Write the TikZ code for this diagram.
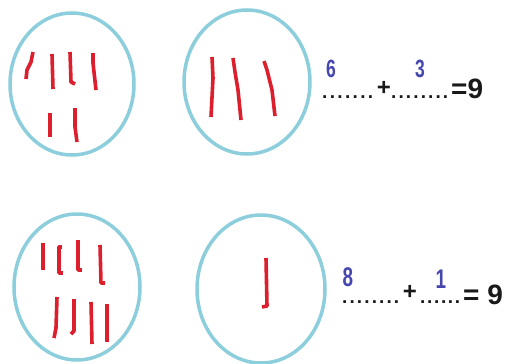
\documentclass[tikz,border=0pt]{standalone}
\usepackage{fontspec}
\setmainfont{Liberation Sans}
\definecolor{ringblue}{RGB}{140,206,220}
\definecolor{stickred}{RGB}{220,30,45}
\definecolor{numblue}{RGB}{70,70,175}
\definecolor{eqblack}{RGB}{25,25,25}
\newcommand{\dotsrow}[2]{\hbox to #2{.\foreach \k in {2,...,#1}{\hfil.}}}
\tikzset{
  ring/.style={draw=ringblue, line width=3.5pt},
  stick/.style={draw=stickred, line width=3.6pt, line join=round},
  dotsty/.style={inner sep=0pt, font=\bfseries\fontsize{19}{19}\selectfont, text=eqblack},
  opsty/.style={inner sep=0pt, font=\bfseries\fontsize{24}{24}\selectfont, text=eqblack},
  resty/.style={inner sep=0pt, font=\bfseries\fontsize{28}{28}\selectfont, text=eqblack},
  numsty/.style={inner sep=0pt, font=\bfseries\fontsize{25}{25}\selectfont, text=numblue},
}
\begin{document}
\begin{tikzpicture}[x=1pt,y=-1pt]
\useasboundingbox (0,0) rectangle (506,364);
% circles
\draw[ring] (72,84) ellipse [x radius=62, y radius=71];
\draw[ring] (247,82) ellipse [x radius=63, y radius=72];
\draw[ring] (77,287) ellipse [x radius=63, y radius=73];
\draw[ring] (261,289) ellipse [x radius=64, y radius=74];
% circle 1 sticks
\draw[stick] (33,52) -- (31,62) -- (27,70) -- (26,79);
\draw[stick] (52,54) -- (53,89);
\draw[stick] (70,52) -- (71,82) -- (75,84);
\draw[stick] (93,53) -- (93,63) -- (96,90);
\draw[stick] (50,113) -- (50,137);
\draw[stick] (75,108) -- (75,127) -- (77,142);
% circle 2 sticks
\draw[stick] (212,57) -- (213,78) -- (211,117);
\draw[stick] (233,58) -- (235,72) -- (238,90) -- (241,120);
\draw[stick] (264,61) -- (267,70) -- (272,90) -- (275,116);
% circle 3 sticks
\draw[stick] (43,243) -- (43,270);
\draw[stick] (62,247) -- (59,247) -- (59,273) -- (63,273);
\draw[stick] (78,240) -- (78,270) -- (82,270);
\draw[stick] (100,245) -- (101,283) -- (105,283);
\draw[stick] (57,297) -- (56,328) -- (54,338);
\draw[stick] (74,299) -- (74,331) -- (71,334);
\draw[stick] (91,302) -- (92,344);
\draw[stick] (107,304) -- (107,342);
% circle 4 stick
\draw[stick] (266,258) -- (267,306) -- (262,307);
% top equation
\node[dotsty, anchor=base west] (d1) at (322,98.5) {\dotsrow{7}{51pt}};
\node[opsty, anchor=base] (p1) at (384,95) {+};
\node[dotsty, anchor=base west] (d2) at (391,98.5) {\dotsrow{8}{57pt}};
\node[resty, anchor=base west] (r1) at (451,98) {=9};
\node[numsty, anchor=base] (n1) at (331,77) {\scalebox{0.7}[1]{6}};
\node[numsty, anchor=base] (n2) at (420,77) {\scalebox{0.7}[1]{3}};
% bottom equation
\node[dotsty, anchor=base west] (d3) at (342,303.5) {\dotsrow{8}{57pt}};
\node[opsty, anchor=base] (p2) at (410,299) {+};
\node[dotsty, anchor=base west] (d4) at (420,303.5) {\dotsrow{6}{40pt}};
\node[resty, anchor=base west] (r2) at (463,304) {= 9};
\node[numsty, font=\bfseries\fontsize{27}{27}\selectfont, anchor=base] (n3) at (348,286) {\scalebox{0.7}[1]{8}};
\node[numsty, font=\bfseries\fontsize{27}{27}\selectfont, anchor=base] (n4) at (441,288) {\scalebox{0.7}[1]{1}};
\end{tikzpicture}
\end{document}
